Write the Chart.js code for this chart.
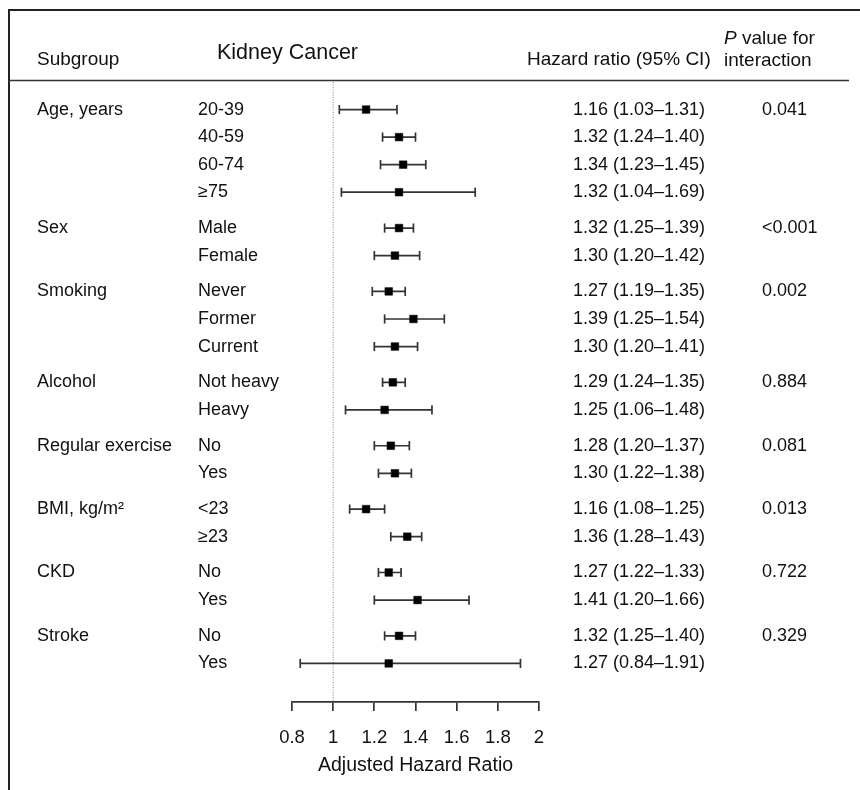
<!DOCTYPE html>
<html>
<head>
<meta charset="utf-8">
<script src="https://cdn.jsdelivr.net/npm/chart.js@4.4.1/dist/chart.umd.min.js"></script>
<style>
  body { margin: 0; background: #fff; }
  canvas { display: block; }
</style>
</head>
<body>
<canvas id="chart" width="860" height="790"></canvas>
<script>
const groups = ["Age, years", "Sex", "Smoking", "Alcohol", "Regular exercise", "BMI, kg/m\u00b2", "CKD", "Stroke"];
const groupSizes = [4, 2, 3, 2, 2, 2, 2, 2];
const pInteraction = ["0.041", "<0.001", "0.002", "0.884", "0.081", "0.013", "0.722", "0.329"];

const subgroups = ["20-39", "40-59", "60-74", "\u226575", "Male", "Female", "Never", "Former", "Current",
  "Not heavy", "Heavy", "No", "Yes", "<23", "\u226523", "No", "Yes", "No", "Yes"];
const hr = [1.16, 1.32, 1.34, 1.32, 1.32, 1.30, 1.27, 1.39, 1.30, 1.29, 1.25, 1.28, 1.30, 1.16, 1.36, 1.27, 1.41, 1.32, 1.27];
const lower = [1.03, 1.24, 1.23, 1.04, 1.25, 1.20, 1.19, 1.25, 1.20, 1.24, 1.06, 1.20, 1.22, 1.08, 1.28, 1.22, 1.20, 1.25, 0.84];
const upper = [1.31, 1.40, 1.45, 1.69, 1.39, 1.42, 1.35, 1.54, 1.41, 1.35, 1.48, 1.37, 1.38, 1.25, 1.43, 1.33, 1.66, 1.40, 1.91];

const xTicks = [0.8, 1, 1.2, 1.4, 1.6, 1.8, 2];
const refValue = 1;

const FONT = "'Liberation Sans', Arial, sans-serif";

// row positions: one unit per row, small extra gap between groups
let rowPos = [];
let rowGroup = [];
let k = 0;
groupSizes.forEach((n, g) => {
  for (let i = 0; i < n; i++) {
    rowPos.push(k + 0.3 * g);
    rowGroup.push(i === 0 ? g : -1);
    k++;
  }
});

const hrPoints = hr.map((v, i) => ({ x: v, y: rowPos[i] }));
let ciPoints = [];
lower.forEach((lo, i) => {
  ciPoints.push({ x: lo, y: rowPos[i] });
  ciPoints.push({ x: upper[i], y: rowPos[i] });
  ciPoints.push({ x: NaN, y: null }); // break the line between rows
});

const fmt = (v) => v.toFixed(2);

const forestText = {
  id: "forestText",
  afterDraw(chart) {
    const c = chart.ctx;
    const ys = chart.scales.y;
    c.save();
    c.fillStyle = "#111";
    c.textBaseline = "middle";
    c.textAlign = "left";

    // frame and header rule
    c.strokeStyle = "#222";
    c.lineWidth = 2;
    c.beginPath();
    c.moveTo(9, 790); c.lineTo(9, 10); c.lineTo(860, 10);
    c.stroke();
    c.lineWidth = 1.5;
    c.strokeStyle = "#333";
    c.beginPath();
    c.moveTo(8, 80.5); c.lineTo(849, 80.5);
    c.stroke();

    // headers
    c.font = "19px " + FONT;
    c.fillText("Subgroup", 37, 60);
    c.fillText("Hazard ratio (95% CI)", 527, 60);
    c.font = "italic 19px " + FONT;
    c.fillText("P", 724, 39);
    const pw = c.measureText("P").width;
    c.font = "19px " + FONT;
    c.fillText(" value for", 724 + pw, 39);
    c.fillText("interaction", 724, 61);
    c.font = "21.5px " + FONT;
    c.fillText("Kidney Cancer", 217, 53);

    // rows
    c.font = "18px " + FONT;
    rowPos.forEach((p, i) => {
      const y = ys.getPixelForValue(p);
      const g = rowGroup[i];
      if (g >= 0) {
        c.fillText(groups[g], 37, y);
        c.fillText(pInteraction[g], 762, y);
      }
      c.fillText(subgroups[i], 198, y);
      c.fillText(fmt(hr[i]) + " (" + fmt(lower[i]) + "\u2013" + fmt(upper[i]) + ")", 573, y);
    });
    c.restore();
  }
};

const ctx = document.getElementById("chart").getContext("2d");
new Chart(ctx, {
  type: "scatter",
  data: {
    datasets: [
      {
        data: hrPoints,
        pointStyle: "rect",
        pointRadius: 5.4,
        pointHoverRadius: 5.4,
        backgroundColor: "#000",
        borderColor: "#000",
        borderWidth: 0.5,
        order: 0,
      },
      {
        type: "line",
        data: ciPoints,
        borderColor: "#333",
        borderWidth: 1.7,
        pointStyle: "line",
        rotation: 90,
        pointRadius: 4.6,
        pointBorderColor: "#333",
        pointBorderWidth: 1.7,
        spanGaps: false,
        order: 1,
      },
      {
        type: "line",
        data: [{ x: refValue, y: -1 }, { x: refValue, y: 21.5 }],
        borderColor: "#999",
        borderWidth: 1.2,
        borderDash: [1, 1.5],
        pointRadius: 0,
        order: 2,
      },
    ],
  },
  options: {
    responsive: false,
    animation: false,
    events: [],
    layout: { padding: { left: 292, right: 321, top: 82, bottom: 8 } },
    plugins: { legend: { display: false }, tooltip: { enabled: false } },
    scales: {
      x: {
        type: "linear",
        min: 0.8,
        max: 2,
        afterBuildTicks: (s) => { s.ticks = xTicks.map((v) => ({ value: v })); },
        afterFit: (s) => { s.height = 80; },
        ticks: {
          callback: (v) => String(v),
          font: { family: FONT, size: 18.5 },
          color: "#111",
          padding: 16,
          maxRotation: 0,
          autoSkip: false,
        },
        grid: { drawOnChartArea: false, drawTicks: true, tickLength: 9, color: "#333", lineWidth: 1.7 },
        border: { display: true, color: "#333", width: 1.7 },
        title: {
          display: true,
          text: "Adjusted Hazard Ratio",
          font: { family: FONT, size: 19.5 },
          color: "#111",
          padding: { top: 0, bottom: 5 },
        },
      },
      y: { type: "linear", display: false, reverse: true, min: -1, max: 21.5 },
    },
  },
  plugins: [forestText],
});
</script>
</body>
</html>
